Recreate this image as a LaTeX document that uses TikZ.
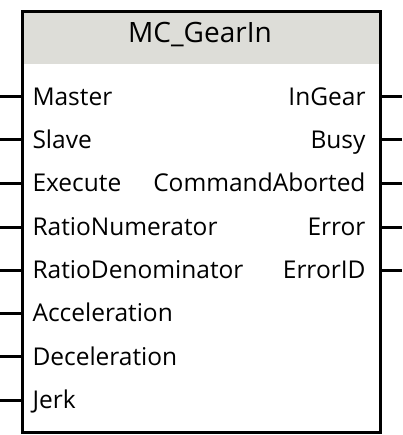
\documentclass[tikz,border=0pt]{standalone}
\usepackage{fontspec}
\setmainfont{Open Sans}
\usetikzlibrary{positioning}
\definecolor{headgray}{RGB}{221,221,216}

\begin{document}
\begin{tikzpicture}[
        x=1pt, y=-1pt,
        every node/.style={inner sep=0pt, font=\fontsize{24.5}{24.5}\selectfont},
        every path/.style={line width=3pt},
        fbbox/.style={draw, minimum width=358pt, minimum height=420.5pt, anchor=north west},
        inlabel/.style={anchor=base west},
        outlabel/.style={anchor=base east},
        titlelabel/.style={anchor=base, font=\fontsize{28}{28}\selectfont}
    ]
    \useasboundingbox (0,0) rectangle (402,435);

    % Block
    \fill[headgray] (21,10.5) rectangle (379,64);
    \node[fbbox] (fb) at (21,10.5) {};
    \node[titlelabel] (title) at (200,43) {MC\_GearIn};

    % Inputs
    \node[inlabel] (master) at (31,105.5) {Master};
    \node[inlabel] (slave) at (31,148.5) {Slave};
    \node[inlabel] (execute) at (31,192) {Execute};
    \node[inlabel] (rationum) at (31,235.5) {RatioNumerator};
    \node[inlabel] (ratioden) at (31,278.5) {RatioDenominator};
    \node[inlabel] (accel) at (31,321.5) {Acceleration};
    \node[inlabel] (decel) at (31,365) {Deceleration};
    \node[inlabel] (jerk) at (31,408.5) {Jerk};

    % Outputs
    \node[outlabel] (ingear) at (367,105.5) {InGear};
    \node[outlabel] (busy) at (367,148.5) {Busy};
    \node[outlabel] (cmdaborted) at (367,192) {CommandAborted};
    \node[outlabel] (error) at (367,235.5) {Error};
    \node[outlabel] (errorid) at (367,278.5) {ErrorID};

    % Pin ends
    \coordinate (pmaster) at (0,97);
    \coordinate (pslave) at (0,140);
    \coordinate (pexecute) at (0,183.5);
    \coordinate (prationum) at (0,227);
    \coordinate (pratioden) at (0,270);
    \coordinate (paccel) at (0,313);
    \coordinate (pdecel) at (0,356.5);
    \coordinate (pjerk) at (0,400);
    \coordinate (pingear) at (402,97);
    \coordinate (pbusy) at (402,140);
    \coordinate (pcmdaborted) at (402,183.5);
    \coordinate (perror) at (402,227);
    \coordinate (perrorid) at (402,270);

    % Pins
    \draw (pmaster) -- (pmaster -| fb.west);
    \draw (pslave) -- (pslave -| fb.west);
    \draw (pexecute) -- (pexecute -| fb.west);
    \draw (prationum) -- (prationum -| fb.west);
    \draw (pratioden) -- (pratioden -| fb.west);
    \draw (paccel) -- (paccel -| fb.west);
    \draw (pdecel) -- (pdecel -| fb.west);
    \draw (pjerk) -- (pjerk -| fb.west);
    \draw (pingear) -- (pingear -| fb.east);
    \draw (pbusy) -- (pbusy -| fb.east);
    \draw (pcmdaborted) -- (pcmdaborted -| fb.east);
    \draw (perror) -- (perror -| fb.east);
    \draw (perrorid) -- (perrorid -| fb.east);
\end{tikzpicture}
\end{document}
